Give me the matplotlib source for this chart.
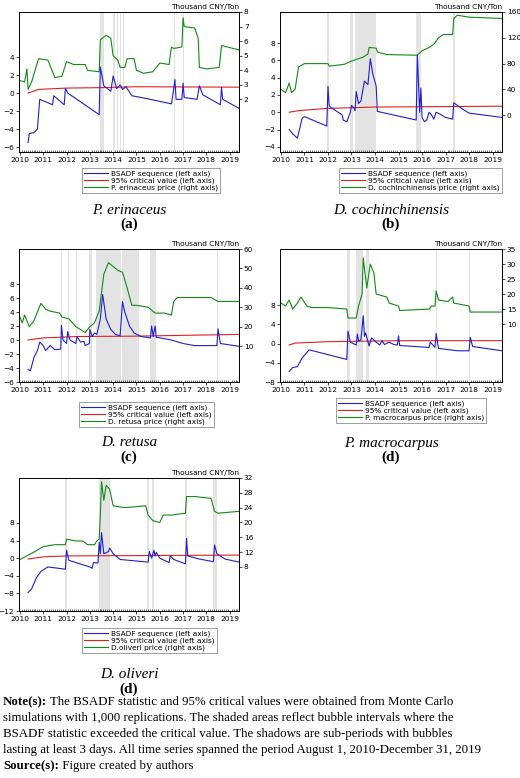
import matplotlib
matplotlib.use("Agg")
import matplotlib.pyplot as plt
import numpy as np
from matplotlib.lines import Line2D

years = list(range(2010, 2020))

# ---------- Panel (a) P. erinaceus ----------
a_bt = [2010.35,2010.4,2010.6,2010.75,2010.85,2011.4,2011.45,2011.9,2011.95,2012.05,2013.4,2013.45,2013.6,2013.9,2014.0,2014.15,2014.3,2014.4,2014.55,2014.8,2015.4,2016.5,2016.55,2016.65,2016.7,2016.95,2017.0,2017.05,2017.6,2017.7,2017.85,2018.6,2018.65,2018.7,2019.4]
a_bv = [-5.5,-4.5,-4.4,-4.0,-0.7,-1.3,-0.3,-1.3,0.5,0.0,-2.4,2.9,0.8,0.2,1.9,0.5,0.9,0.4,0.7,-0.3,-0.6,-1.2,-0.4,1.5,-0.7,-0.7,1.1,-0.5,-0.7,0.8,-0.2,-1.3,0.6,-0.7,-1.7]
a_rt = [2010.35,2010.8,2012,2013.5,2015,2019.4]
a_rv = [0.0,0.4,0.55,0.6,0.7,0.65]
a_gt = [2010,2010.2,2010.3,2010.35,2010.5,2010.8,2011.2,2011.5,2011.8,2012.0,2012.3,2012.8,2012.9,2013.4,2013.45,2013.7,2013.9,2014.0,2014.2,2014.3,2014.5,2014.6,2014.9,2015.0,2015.3,2015.7,2016.0,2016.4,2016.5,2016.6,2016.95,2017.0,2017.05,2017.5,2017.65,2017.7,2018.0,2018.55,2018.65,2019.4]
a_gv = [3.3,3.2,4.1,2.7,3.2,4.8,4.7,3.5,3.6,4.6,4.4,4.4,4.0,3.9,6.1,6.4,6.2,5.0,4.7,4.2,4.2,4.8,4.8,4.0,3.8,3.9,4.5,4.4,5.6,5.5,5.6,7.6,7.0,6.9,6.2,4.2,4.1,4.2,5.7,5.4]
a_sh = [(2013.45,2013.62),(2014.0,2014.06),(2014.15,2014.2),(2014.28,2014.33),(2014.42,2014.47),(2016.6,2016.65),(2016.98,2017.02)]

# ---------- Panel (b) D. cochinchinensis ----------
b_bt = [2010.35,2010.5,2010.7,2010.9,2011.0,2011.95,2012.0,2012.05,2012.1,2012.6,2012.65,2012.8,2012.95,2013.0,2013.1,2013.15,2013.2,2013.3,2013.4,2013.55,2013.7,2013.8,2013.9,2014.05,2014.1,2015.75,2015.8,2015.9,2015.95,2016.0,2016.1,2016.2,2016.3,2016.4,2016.5,2016.6,2016.75,2017.0,2017.3,2017.35,2017.7,2018,2019.4]
b_bv = [-2.0,-2.5,-3.0,-0.7,-0.5,-1.6,3.0,0.8,0.6,-0.3,-0.9,-1.1,0.0,0.8,0.5,0.2,2.4,1.0,1.3,3.6,3.2,6.2,4.5,3.0,0.1,-0.9,6.6,0.0,2.8,-0.6,-1.1,-0.9,0.0,-0.3,-0.8,0.0,-0.2,-0.6,-0.8,1.1,0.4,-0.1,-0.6]
b_rt = [2010.35,2010.8,2012,2014,2019.4]
b_rv = [0.0,0.2,0.45,0.6,0.7]
b_gt = [2010,2010.2,2010.35,2010.45,2010.6,2010.75,2011.0,2012.0,2012.05,2012.7,2013.0,2013.5,2013.7,2013.75,2014.05,2014.1,2014.5,2015.8,2016.0,2016.3,2016.5,2016.7,2016.9,2017.3,2017.35,2017.5,2018,2019.4]
b_gv = [40,35,50,35,40,75,80,80,76,79,84,90,95,105,104,98,94,93,100,105,110,120,125,125,150,155,152,150]
b_sh = [(2011.95,2012.05),(2012.95,2013.05),(2013.15,2014.05),(2015.75,2015.95),(2017.3,2017.4)]

# ---------- Panel (c) D. retusa ----------
c_bt = [2010.35,2010.45,2010.6,2010.75,2010.85,2011.0,2011.1,2011.3,2011.5,2011.75,2011.78,2011.85,2012.0,2012.05,2012.15,2012.4,2012.45,2012.6,2012.75,2012.8,2012.98,2013.0,2013.1,2013.2,2013.3,2013.45,2013.55,2013.7,2013.9,2014.1,2014.3,2014.4,2014.5,2014.7,2014.9,2015.2,2015.6,2015.65,2015.72,2015.8,2015.85,2016.5,2017,2017.5,2018.45,2018.5,2018.6,2019.4]
c_bv = [-4.2,-4.4,-2.5,-1.5,-0.3,-0.8,-1.5,-0.8,-1.4,-1.3,2.1,0.0,-0.5,1.2,0.0,-0.5,0.5,-0.3,-0.2,-0.8,-0.5,1.5,0.5,1.0,0.8,3.0,6.5,3.0,1.5,0.8,0.6,5.5,4.0,2.0,1.0,0.5,0.3,2.0,0.5,2.0,0.4,0.0,-0.5,-0.8,-0.8,1.6,-0.5,-0.9]
c_rt = [2010.35,2011,2012.5,2015,2019.4]
c_rv = [0.0,0.3,0.5,0.55,0.8]
c_gt = [2010,2010.1,2010.2,2010.4,2010.6,2010.9,2011.1,2011.3,2011.7,2011.8,2012.1,2012.4,2012.8,2013.0,2013.2,2013.4,2013.6,2013.8,2014.0,2014.2,2014.4,2014.6,2014.8,2015.0,2015.5,2015.8,2016.2,2016.5,2016.6,2016.75,2017.0,2018.2,2018.5,2019.4]
c_gv = [25,22,26,20,23,32,29,28,27,25,24,20,17,20,22,28,47,53,51,49,48,40,31,31,30,27,27,26,33,35,35,35,33,33]
c_sh = [(2011.75,2011.8),(2012.05,2012.1),(2012.4,2012.45),(2012.98,2013.1),(2013.25,2014.35),(2014.4,2015.1),(2015.6,2015.85),(2018.45,2018.5)]

# ---------- Panel (d) P. macrocarpus ----------
d_bt = [2010.35,2010.5,2010.7,2010.9,2011.2,2012.8,2012.85,2012.95,2013.2,2013.25,2013.3,2013.4,2013.5,2013.55,2013.6,2013.75,2013.85,2014.0,2014.2,2014.3,2014.4,2014.6,2014.8,2014.95,2015.0,2015.05,2016.3,2016.35,2016.55,2016.6,2016.7,2017.5,2018.0,2018.05,2018.15,2019.4]
d_bv = [-5.8,-5.0,-4.8,-3.0,-1.3,-3.3,2.6,0.3,-0.3,2.0,0.5,0.8,5.8,1.5,2.2,-0.5,1.2,0.5,-0.3,0.6,-0.2,0.3,-0.2,-0.3,1.6,-0.4,-0.8,0.3,-0.8,2.1,-1.0,-1.5,-1.5,1.3,-0.6,-1.5]
d_rt = [2010.35,2010.6,2012,2015,2019.4]
d_rv = [-0.3,0.1,0.4,0.6,0.6]
d_gt = [2010,2010.2,2010.35,2010.5,2010.7,2010.85,2011.1,2011.3,2012,2012.8,2012.85,2013.2,2013.3,2013.45,2013.5,2013.65,2013.8,2013.95,2014.05,2014.5,2014.6,2015.0,2015.05,2016.3,2016.4,2016.55,2016.6,2016.7,2017.1,2017.3,2017.35,2018.0,2018.05,2019.4]
d_gv = [17,16,18,15,17,19,16,15.5,15.5,15,12,12,16,20,32,22,30,27,20,19,17,16,14.5,15,16,16,21,18,17.5,19,17,16,14,14]
d_sh = [(2012.8,2012.95),(2013.2,2013.5),(2013.6,2013.75),(2015.0,2015.03),(2016.6,2016.63),(2018.0,2018.03)]

# ---------- Panel (e) D. oliveri ----------
e_bt = [2010.35,2010.5,2010.7,2010.9,2011.2,2011.95,2012.0,2012.1,2013.0,2013.1,2013.15,2013.35,2013.4,2013.45,2013.5,2013.6,2013.8,2013.85,2014.0,2014.3,2015.5,2015.55,2015.65,2015.75,2015.8,2015.85,2016.0,2016.4,2016.45,2016.6,2017.1,2017.15,2017.2,2017.7,2018.3,2018.35,2018.45,2018.8,2019.4]
e_bv = [-7.8,-7.0,-4.5,-3.0,-2.0,-2.5,1.8,-0.5,-2.0,-2.3,-1.0,-1.1,3.6,1.0,5.8,1.0,1.5,2.3,1.0,-0.3,-0.9,1.5,0.0,1.8,0.5,1.3,0.0,-1.0,0.5,-0.3,-1.3,4.5,0.5,-0.2,-0.8,3.0,1.0,-0.2,-0.9]
e_rt = [2010.35,2011,2012,2019.4]
e_rv = [-0.2,0.3,0.5,0.7]
e_gt = [2010,2010.3,2010.6,2011,2011.5,2011.95,2012.0,2012.4,2012.7,2012.9,2013.2,2013.3,2013.4,2013.45,2013.5,2013.6,2013.7,2013.85,2014.0,2014.5,2015.4,2015.5,2015.7,2016.0,2016.15,2016.5,2017.1,2017.15,2017.5,2018.2,2018.35,2018.5,2019.4]
e_gv = [10,11,12,13.5,14,14,15.5,15,15,14,14,15,15.5,22,31,26,30,29,24.5,24,24.5,22,20.5,20,22,22,22.5,27,27,26.5,23,22.5,23]
e_sh = [(2011.95,2012.0),(2013.4,2013.85),(2015.45,2015.55),(2015.65,2015.75),(2017.1,2017.15),(2018.3,2018.45)]

W, H = 520, 778
fig = plt.figure(figsize=(W/100, H/100), dpi=100)

def fx(px): return px / W
def fy(py): return 1 - py / H

panels = [
    dict(bt=a_bt,bv=a_bv,rt=a_rt,rv=a_rv,gt=a_gt,gv=a_gv,sh=a_sh,box=(19,12,239,152),
         ly=(-6.55,9.0),lt=[-6,-4,-2,0,2,4],ry=(-1.6,8),rtk=[2,3,4,5,6,7,8],
         name="P. erinaceus",lab="(a)",leg=(82,168),ty=210),
    dict(bt=b_bt,bv=b_bv,rt=b_rt,rv=b_rv,gt=b_gt,gv=b_gv,sh=b_sh,box=(280,12,502,152),
         ly=(-4.6,11.6),lt=[-4,-2,0,2,4,6,8],ry=(-57,160),rtk=[0,40,80,120,160],
         name="D. cochinchinensis",lab="(b)",leg=(339,168),ty=210),
    dict(bt=c_bt,bv=c_bv,rt=c_rt,rv=c_rv,gt=c_gt,gv=c_gv,sh=c_sh,box=(19,249,239,382),
         ly=(-6,13),lt=[-6,-4,-2,0,2,4,6,8],ry=(-8.5,60),rtk=[10,20,30,40,50,60],
         name="D. retusa",lab="(c)",leg=(79,402),ty=443),
    dict(bt=d_bt,bv=d_bv,rt=d_rt,rv=d_rv,gt=d_gt,gv=d_gv,sh=d_sh,box=(280,249,502,382),
         ly=(-8,19.7),lt=[-8,-4,0,4,8],ry=(-9.3,35),rtk=[10,15,20,25,30,35],
         name="P. macrocarpus",lab="(d)",leg=(336,398),ty=443),
    dict(bt=e_bt,bv=e_bv,rt=e_rt,rv=e_rv,gt=e_gt,gv=e_gv,sh=e_sh,box=(19,478,239,611),
         ly=(-12,18.2),lt=[-12,-8,-4,0,4,8],ry=(-3.9,32),rtk=[8,12,16,20,24,28,32],
         name="D. oliveri",lab="(d)",leg=(82,628),ty=675),
]

legnames = ["P. erinaceus","D. cochinchinensis","D. retusa","P. macrocarpus","D.oliveri"]
TF = 5.3
for i, p in enumerate(panels):
    x0,y0,x1,y1 = p["box"]
    ax = fig.add_axes([fx(x0), fy(y1), fx(x1)-fx(x0), fy(y0)-fy(y1)])
    ax.set_xlim(2009.96, 2019.4)
    ax.set_ylim(*p["ly"])
    ax.plot(p["bt"], p["bv"], color="#2020d0", lw=0.8, zorder=3)
    ax.plot(p["rt"], p["rv"], color="#e02020", lw=0.8, zorder=2)
    ax.set_yticks(p["lt"])
    ax.set_xticks(years)
    ax.set_xticks(np.arange(2010, 2019.4, 1/12), minor=True)
    ax.tick_params(labelsize=TF, length=2, width=0.5, pad=1.5, direction="out")
    ax.tick_params(axis="x", which="minor", length=1.5, width=0.4, direction="in")
    ax2 = ax.twinx()
    ax2.set_ylim(*p["ry"])
    for s0, s1 in p["sh"]:
        ax2.axvspan(s0, s1, color="#e3e3e3", lw=0, zorder=0)
    ax2.plot(p["gt"], p["gv"], color="#138a13", lw=0.8, zorder=1)
    ax2.set_yticks(p["rtk"])
    ax2.tick_params(labelsize=TF, length=2, width=0.5, pad=1.5)
    for a in (ax, ax2):
        for sp in a.spines.values():
            sp.set_linewidth(0.6)
    ax.set_zorder(ax2.get_zorder()+1); ax.patch.set_visible(False)
    fig.text(fx(x1), fy(y0-2), "Thousand CNY/Ton", fontsize=TF, ha="right", va="bottom")
    handles = [Line2D([],[],color="#2020d0",lw=0.8), Line2D([],[],color="#e02020",lw=0.8),
               Line2D([],[],color="#138a13",lw=0.8)]
    labels = ["BSADF sequence (left axis)", "95% critical value (left axis)",
              legnames[i] + " price (right axis)"]
    lg = fig.legend(handles, labels, loc="upper left", bbox_to_anchor=(fx(p["leg"][0]), fy(p["leg"][1])),
                    fontsize=TF, frameon=True, fancybox=False, edgecolor="#555555",
                    handlelength=3.2, handletextpad=0.4, labelspacing=0.05, borderpad=0.3, borderaxespad=0)
    lg.get_frame().set_linewidth(0.5)
    cx = (x0 + x1) / 2
    fig.text(fx(cx), fy(p["ty"]), p["name"], fontsize=11, style="italic", family="Liberation Serif", ha="center", va="center")
    fig.text(fx(cx), fy(p["ty"]+14), p["lab"], fontsize=11, weight="bold", family="Liberation Serif", ha="center", va="center")

lines = [
    ("Note(s):", " The BSADF statistic and 95% critical values were obtained from Monte Carlo"),
    ("", "simulations with 1,000 replications. The shaded areas reflect bubble intervals where the"),
    ("", "BSADF statistic exceeded the critical value. The shadows are sub-periods with bubbles"),
    ("", "lasting at least 3 days. All time series spanned the period August 1, 2010-December 31, 2019"),
    ("Source(s):", " Figure created by authors"),
]
ys = [705, 721, 737, 753, 769]
for (b, t), yy in zip(lines, ys):
    if b:
        tb = fig.text(fx(3), fy(yy), b, fontsize=9.3, weight="bold", family="Liberation Serif", va="baseline")
        plt.annotate(t, xy=(1, 0), xycoords=tb, fontsize=9.3, family="Liberation Serif", va="bottom", annotation_clip=False)
    else:
        fig.text(fx(3), fy(yy), t, fontsize=9.3, family="Liberation Serif", va="baseline")

fig.savefig("out.png", dpi=100)
